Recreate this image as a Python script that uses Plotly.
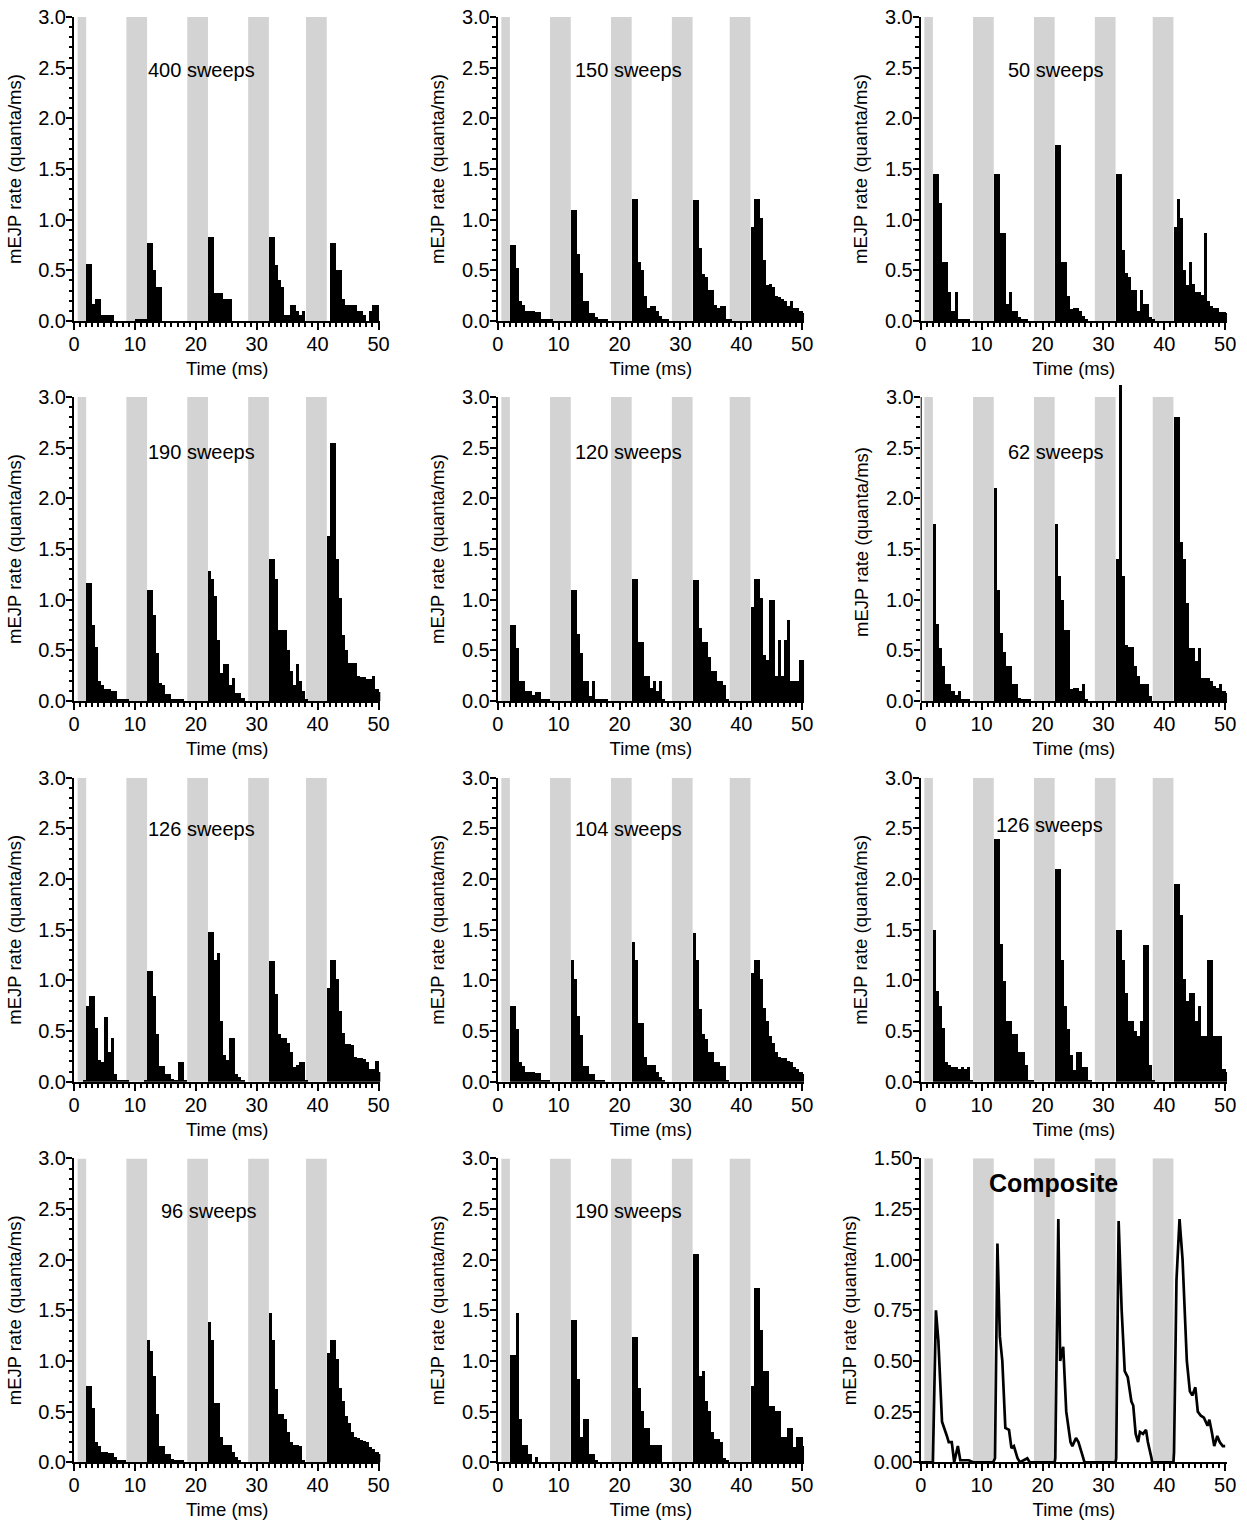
import plotly.graph_objects as go

# ---------------- data (0.5 ms bins, 0 .. 50.5 ms) ----------------
bin_edges_start = 0.0
bin_width = 0.5
n_bins = 101

rate_400 = [0,0,0,0,0.56,0.56,0.17,0.22,0.22,0.06, 0.06,0.06,0.06,0,0,0,0,0,0,0,
            0.01,0.01,0.01,0.01,0.77,0.77,0.5,0.33,0.33,0, 0,0,0,0,0,0,0,0,0,0,
            0,0,0,0,0.83,0.83,0.28,0.28,0.28,0.22, 0.22,0.22,0,0,0,0,0,0,0,0,
            0,0,0,0,0.83,0.83,0.55,0.4,0.33,0.06, 0.06,0.16,0.16,0.1,0.06,0.1,0,0,0,0,
            0,0,0,0,0.77,0.77,0.5,0.5,0.22,0.16, 0.16,0.16,0.16,0.1,0.1,0.06,0,0.1,0.16,0.16, 0]
rate_150 = [0,0,0,0,0.75,0.75,0.52,0.2,0.16,0.1, 0.1,0.1,0.09,0.09,0.02,0.02,0.02,0.01,0,0,
            0,0,0,0,1.09,1.09,0.66,0.47,0.2,0.2, 0.08,0.08,0.04,0.02,0.02,0.01,0,0,0,0,
            0,0,0,0,1.2,1.2,0.58,0.5,0.25,0.13, 0.15,0.15,0.1,0.05,0.02,0.01,0,0,0,0,
            0,0,0,0,1.19,1.19,0.72,0.46,0.43,0.31, 0.31,0.16,0.13,0.15,0.15,0.02,0.01,0,0,0,
            0,0,0,0.93,1.2,1.2,1.02,0.6,0.35,0.36, 0.33,0.25,0.24,0.22,0.2,0.15,0.2,0.13,0.13,0.1, 0.08]
rate_50 = [0,0,0,0,1.45,1.45,1.16,0.58,0.58,0.29, 0.1,0.29,0.02,0.02,0.02,0.02,0,0,0,0,
           0,0,0,0,1.45,1.45,0.87,0.87,0.17,0.29, 0.1,0.1,0.04,0.02,0.02,0,0,0,0,0,
           0,0,0,0,1.74,1.74,0.58,0.58,0.25,0.12, 0.13,0.13,0.1,0.05,0.02,0,0,0,0,0,
           0,0,0,0,1.45,1.45,0.7,0.47,0.43,0.31, 0.31,0.1,0.31,0.17,0.17,0.04,0.01,0,0,0,
           0,0,0,0.93,1.2,1.02,0.5,0.35,0.58,0.36, 0.29,0.29,0.26,0.87,0.2,0.15,0.13,0.13,0.09,0.09, 0.08]
rate_190a = [0,0,0,0,1.16,1.16,0.75,0.53,0.2,0.16, 0.12,0.12,0.1,0.1,0.02,0.02,0.02,0.01,0,0,
             0,0,0,0,1.09,1.09,0.85,0.47,0.18,0.16, 0.07,0.07,0.02,0.02,0.02,0.02,0,0,0,0,
             0,0,0,0,1.28,1.2,1.04,0.6,0.28,0.36, 0.36,0.16,0.23,0.08,0.08,0.03,0,0,0,0,
             0,0,0,0,1.4,1.4,1.2,0.7,0.7,0.7, 0.5,0.3,0.16,0.36,0.2,0.1,0.02,0,0,0,
             0,0,0,1.63,2.55,2.55,1.4,1.02,0.65,0.5, 0.37,0.37,0.37,0.25,0.24,0.24,0.22,0.22,0.25,0.12, 0.09]
rate_120 = [0,0,0,0,0.75,0.75,0.52,0.2,0.2,0.1, 0.1,0.06,0.09,0.09,0.02,0.02,0.02,0,0,0,
            0,0,0,0,1.09,1.09,0.66,0.47,0.2,0.2, 0.05,0.2,0.02,0.02,0.02,0.02,0,0,0,0,
            0,0,0,0,1.2,1.2,0.58,0.58,0.25,0.25, 0.13,0.2,0.1,0.2,0.02,0,0,0,0,0,
            0,0,0,0,1.19,1.19,0.72,0.58,0.58,0.43, 0.3,0.3,0.2,0.2,0.16,0.02,0,0,0,0,
            0,0,0,0.93,1.2,1.2,1.02,0.45,0.4,1.0, 1.0,0.25,0.6,0.25,0.6,0.8,0.2,0.2,0.2,0.4, 0.4]
rate_62 = [0,0,0,0,1.75,0.76,0.52,0.35,0.17,0.17, 0.1,0.06,0.1,0.02,0.02,0.02,0,0,0,0,
           0,0,0,0,2.1,1.1,0.67,0.48,0.35,0.35, 0.17,0.17,0.03,0.02,0.02,0.02,0,0,0,0,
           0,0,0,0,1.75,1.23,1.0,0.7,0.7,0.12, 0.13,0.13,0.1,0.17,0.02,0,0,0,0,0,
           0,0,0,0,1.4,3.12,1.23,0.55,0.53,0.53, 0.35,0.25,0.17,0.17,0.17,0.05,0,0,0,0,
           0,0,0,2.8,2.8,1.57,1.4,0.97,0.52,0.52, 0.4,0.52,0.23,0.23,0.23,0.2,0.15,0.13,0.17,0.1, 0.08]
rate_126a = [0,0,0,0.01,0.75,0.85,0.85,0.53,0.22,0.2, 0.64,0.3,0.43,0.08,0.02,0.02,0.02,0.01,0,0,
             0,0,0,0.01,1.09,1.09,0.85,0.47,0.16,0.16, 0.08,0.08,0.03,0.02,0.2,0.2,0.01,0,0,0,
             0,0,0,0,1.48,1.48,1.2,1.27,0.6,0.27, 0.22,0.43,0.43,0.08,0.05,0.02,0,0,0,0,
             0,0,0,0,1.19,1.19,0.87,0.47,0.43,0.43, 0.38,0.3,0.15,0.17,0.2,0.2,0.02,0,0,0,
             0,0,0,0.93,1.2,1.2,1.02,0.7,0.48,0.37, 0.37,0.36,0.25,0.24,0.24,0.23,0.2,0.13,0.13,0.21, 0.1]
rate_104 = [0,0,0,0,0.75,0.75,0.52,0.2,0.16,0.1, 0.1,0.1,0.09,0.09,0.02,0.02,0.02,0,0,0,
            0,0,0,0,1.2,1.02,0.65,0.46,0.16,0.16, 0.08,0.08,0.02,0.02,0.02,0,0,0,0,0,
            0,0,0,0,1.38,1.2,0.58,0.58,0.25,0.17, 0.17,0.17,0.1,0.05,0.02,0,0,0,0,0,
            0,0,0,0,1.47,1.2,0.72,0.47,0.42,0.3, 0.3,0.2,0.2,0.16,0.16,0.02,0,0,0,0,
            0,0,0,1.08,1.2,1.2,1.02,0.73,0.6,0.45, 0.38,0.3,0.25,0.24,0.24,0.21,0.2,0.15,0.13,0.1, 0.08]
rate_126b = [0,0,0,0,1.5,0.9,0.75,0.53,0.2,0.17, 0.15,0.15,0.13,0.15,0.13,0.15,0.02,0,0,0,
             0,0,0,0,2.4,2.4,1.36,1.0,0.6,0.6, 0.47,0.47,0.3,0.3,0.17,0.02,0.02,0,0,0,
             0,0,0,0,2.1,2.1,1.2,0.75,0.52,0.27, 0.12,0.3,0.3,0.15,0.15,0.02,0,0,0,0,
             0,0,0,0,1.5,1.5,1.2,0.88,0.6,0.6, 0.5,0.45,0.6,1.35,1.35,0.17,0.02,0,0,0,
             0,0,0,1.95,1.95,1.65,1.02,0.8,0.88,0.88, 0.6,0.75,0.45,0.45,1.2,1.2,0.45,0.45,0.45,0.13, 0.1]
rate_96 = [0,0,0,0,0.75,0.75,0.53,0.2,0.16,0.1, 0.1,0.09,0.09,0.05,0.02,0.02,0.02,0,0,0,
           0,0,0,0,1.2,1.09,0.85,0.47,0.16,0.16, 0.08,0.08,0.03,0.02,0.02,0.02,0,0,0,0,
           0,0,0,0,1.38,1.2,0.58,0.58,0.25,0.17, 0.17,0.17,0.1,0.05,0.02,0,0,0,0,0,
           0,0,0,0,1.47,1.2,0.72,0.47,0.47,0.42, 0.3,0.2,0.17,0.17,0.16,0.02,0,0,0,0,
           0,0,0,1.08,1.2,1.2,1.02,0.73,0.6,0.45, 0.38,0.3,0.25,0.24,0.22,0.21,0.2,0.15,0.13,0.1, 0.08]
rate_190b = [0,0,0,0,1.06,1.06,1.47,0.42,0.17,0.17, 0.08,0,0.05,0,0,0,0,0,0,0,
             0,0,0,0,1.4,1.4,0.82,0.25,0.42,0.42, 0.08,0.08,0.01,0,0,0,0,0,0,0,
             0,0,0,0,1.23,1.23,0.73,0.5,0.33,0.33, 0.17,0.17,0.17,0.17,0,0,0,0,0,0,
             0,0,0,0,2.05,2.05,0.85,0.9,0.6,0.5, 0.3,0.23,0.23,0.2,0.04,0.02,0,0,0,0,
             0,0,0,0.75,1.72,1.72,1.3,0.9,0.9,0.55, 0.55,0.5,0.5,0.25,0.25,0.33,0.33,0.15,0.25,0.25, 0.16]

panel_labels = ["400 sweeps", "150 sweeps", "50 sweeps",
                "190 sweeps", "120 sweeps", "62 sweeps",
                "126 sweeps", "104 sweeps", "126 sweeps",
                "96 sweeps", "190 sweeps", "Composite"]

comp_time = [0, 2.0, 2.5, 2.9, 3.5, 3.9, 4.3, 4.6, 5.1, 5.5, 6.1, 6.5, 7.9, 8.6,
             11.9, 12.2, 12.6, 13.0, 13.4, 13.9, 14.5, 14.9, 15.3, 15.9, 16.3, 17.5, 17.9,
             22.0, 22.1, 22.6, 22.8, 22.9, 23.4, 23.9, 24.6, 24.9, 25.5, 25.9, 26.4, 26.9,
             32.0, 32.1, 32.5, 33.0, 33.5, 34.0, 34.6, 34.9, 35.3, 35.7, 36.0, 36.5, 37.0, 37.3, 37.9, 38.0,
             41.5, 41.6, 42.0, 42.5, 43.0, 43.7, 44.2, 44.6, 45.1, 45.5, 46.0, 46.5, 47.1, 47.4, 47.8,
             48.2, 48.7, 49.1, 49.6, 50.0]
comp_rate = [0, 0, 0.75, 0.6, 0.2, 0.17, 0.13, 0.1, 0.1, 0.0, 0.08, 0.01, 0.01, 0,
             0, 0.02, 1.08, 0.62, 0.5, 0.17, 0.16, 0.07, 0.08, 0.02, 0, 0.02, 0,
             0, 0.02, 1.2, 0.85, 0.5, 0.57, 0.25, 0.1, 0.08, 0.12, 0.1, 0.05, 0,
             0, 0.02, 1.19, 0.75, 0.45, 0.42, 0.3, 0.28, 0.14, 0.1, 0.15, 0.14, 0.16, 0.1, 0.02, 0,
             0, 0.05, 0.9, 1.2, 1.0, 0.5, 0.35, 0.33, 0.37, 0.25, 0.23, 0.22, 0.18, 0.21, 0.15,
             0.08, 0.13, 0.1, 0.08, 0.08]

band_start = [0.6, 8.6, 18.6, 28.6, 38.1]
band_end = [2.0, 12.0, 22.0, 32.0, 41.5]

x_ticks = [0, 10, 20, 30, 40, 50]

# ---------------- figure ----------------
histograms = [rate_400, rate_150, rate_50, rate_190a, rate_120, rate_62,
              rate_126a, rate_104, rate_126b, rate_96, rate_190b]
bin_centers = [bin_edges_start + bin_width * (i + 0.5) for i in range(n_bins)]

W, H = 1247, 1523
FONT = "Arial, 'Liberation Sans', sans-serif"
col_left = [74, 497.7, 920.7]
row_bottom = [321, 701, 1081.7, 1462.3]
px_per_ms = 6.09
px_per_unit = 101.3   # pixels per 1 quanta/ms for 0..3 axes
x_max = 50.3

# annotation positions (data coords) per panel
ann_pos = [(21.0, 2.48), (21.4, 2.48), (22.2, 2.48),
           (21.0, 2.46), (21.4, 2.46), (22.2, 2.46),
           (21.0, 2.49), (21.4, 2.49), (21.1, 2.53),
           (22.2, 2.48), (21.4, 2.48), (21.8, 1.38)]

fig = go.Figure()
layout = dict(width=W, height=H, margin=dict(l=0, r=0, t=0, b=0, autoexpand=False),
              paper_bgcolor="white", plot_bgcolor="white",
              showlegend=False, bargap=0, font=dict(family=FONT, color="black"))
shapes = []
annotations = []

for k in range(12):
    r, c = divmod(k, 3)
    sfx = "" if k == 0 else str(k + 1)
    xa, ya = "x" + sfx, "y" + sfx
    composite = (k == 11)
    ytop = 1.5 if composite else 3.0
    yrange_top = ytop
    if not composite and max(histograms[k]) > ytop:
        yrange_top = 3.14
    unit_px = (304.0 / 1.5) if composite else px_per_unit
    bottom_px = row_bottom[r]
    top_px = bottom_px - yrange_top * unit_px
    x0p = col_left[c]
    x1p = x0p + x_max * px_per_ms
    dom_x = [x0p / W, x1p / W]
    dom_y = [1 - bottom_px / H, 1 - top_px / H]

    if composite:
        fig.add_trace(go.Scatter(x=comp_time, y=comp_rate, mode="lines",
                                 line=dict(color="black", width=2.7),
                                 xaxis=xa, yaxis=ya, hoverinfo="skip"))
    else:
        fig.add_trace(go.Bar(x=bin_centers, y=histograms[k], width=bin_width,
                             marker=dict(color="black", line=dict(width=0)),
                             xaxis=xa, yaxis=ya, hoverinfo="skip"))

    major = 0.25 if composite else 0.5
    minor_step = 0.05 if composite else 0.1
    n_minor = int(round(ytop / minor_step))
    minor_vals = [round(i * minor_step, 3) for i in range(n_minor + 1)
                  if abs((i * minor_step) / major - round((i * minor_step) / major)) > 1e-6]

    overflow = yrange_top > ytop
    layout["xaxis" + sfx] = dict(
        domain=dom_x, anchor=ya, range=[0, x_max], automargin=False,
        tickvals=x_ticks, ticks="outside", ticklen=7, tickwidth=2, tickcolor="black",
        ticklabelstandoff=-3,
        minor=dict(dtick=1, tick0=0, ticks="outside", ticklen=4, tickwidth=2,
                   tickcolor="black", showgrid=False),
        showline=True, linewidth=2, linecolor="black", showgrid=False, zeroline=False,
        tickfont=dict(size=20, family=FONT, color="black"),
        title=dict(text="Time (ms)", font=dict(size=18.5, family=FONT, color="black"),
                   standoff=8),
        fixedrange=True)
    layout["yaxis" + sfx] = dict(
        domain=dom_y, anchor=xa, range=[0, yrange_top], automargin=False,
        tickvals=[round(i * major, 3) for i in range(int(round(ytop / major)) + 1)],
        tickformat=".2f" if composite else ".1f",
        ticks="outside", ticklen=6, tickwidth=2, tickcolor="black",
        ticklabelstandoff=-4,
        minor=dict(tickvals=minor_vals, ticks="outside", ticklen=3.5, tickwidth=2,
                   tickcolor="black", showgrid=False),
        showline=not overflow, linewidth=2, linecolor="black",
        showgrid=False, zeroline=False,
        tickfont=dict(size=20, family=FONT, color="black"),
        title=dict(text="mEJP rate (quanta/ms)",
                   font=dict(size=18.5, family=FONT, color="black"), standoff=12),
        fixedrange=True)
    if overflow:
        shapes.append(dict(type="line", xref=xa, yref=ya, x0=0, x1=0, y0=0, y1=ytop,
                           line=dict(color="black", width=2), layer="above"))

    for bs, be in zip(band_start, band_end):
        shapes.append(dict(type="rect", xref=xa, yref=ya, x0=bs, x1=be, y0=0, y1=ytop,
                           fillcolor="#d3d3d3", line=dict(width=0), layer="below"))

    ax_, ay_ = ann_pos[k]
    annotations.append(dict(
        x=ax_, y=ay_, xref=xa, yref=ya, showarrow=False, xanchor="center", yanchor="middle",
        text=("<b>%s</b>" % panel_labels[k]) if composite else panel_labels[k],
        font=dict(size=25 if composite else 20, family=FONT, color="black")))

layout["shapes"] = shapes
layout["annotations"] = annotations
fig.update_layout(**layout)
fig.write_html("out.html", config={"displayModeBar": False},
               post_script="document.body.style.margin='0px';")
